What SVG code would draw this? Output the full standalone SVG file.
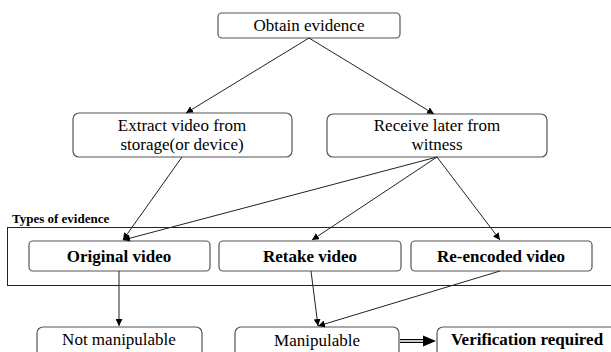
<svg xmlns="http://www.w3.org/2000/svg" width="611" height="352" viewBox="0 0 611 352">
<defs>
<marker id="ah" viewBox="0 0 10 10" refX="10" refY="5" markerWidth="7" markerHeight="7" markerUnits="userSpaceOnUse" orient="auto">
<path d="M0,0 L10,5 L0,10 z" fill="#000"/>
</marker>
<style>
.box{fill:#fff;stroke:#555;stroke-width:1.2}
.frame{fill:none;stroke:#222;stroke-width:1}
.t{font-family:'Liberation Serif','Times New Roman',serif;font-size:17px;fill:#000;text-anchor:middle}
.b{font-weight:bold}
.lbl{font-family:'Liberation Serif','Times New Roman',serif;font-size:13px;font-weight:bold;fill:#000}
.c{fill:none;stroke:#222;stroke-width:1;marker-end:url(#ah)}
</style>
</defs>
<rect width="611" height="352" fill="#fff"/>
<g id="types">
<rect class="frame" x="7.5" y="227.5" width="610" height="58"/>
<text class="lbl" x="12" y="223">Types of evidence</text>
</g>
<g id="obtain"><rect class="box" x="218" y="13" width="182" height="25" rx="4"/><text class="t" x="309" y="31">Obtain evidence</text></g>
<g id="extract"><rect class="box" x="73" y="113" width="219" height="44" rx="6"/><text class="t" x="182" y="131">Extract video from</text><text class="t" x="182" y="150">storage(or device)</text></g>
<g id="receive"><rect class="box" x="327" y="114" width="220" height="43" rx="6"/><text class="t" x="437" y="131">Receive later from</text><text class="t" x="437" y="150">witness</text></g>
<g id="original"><rect class="box" x="29" y="241" width="181" height="30" rx="4"/><text class="t b" x="119" y="262">Original video</text></g>
<g id="retake"><rect class="box" x="219" y="241" width="182" height="30" rx="4"/><text class="t b" x="310" y="262">Retake video</text></g>
<g id="reencoded"><rect class="box" x="411" y="241" width="181" height="30" rx="4"/><text class="t b" x="501" y="262">Re-encoded video</text></g>
<g id="notmanip"><rect class="box" x="37" y="327" width="165" height="40" rx="6"/><text class="t" x="119" y="345">Not manipulable</text></g>
<g id="manip"><rect class="box" x="235" y="327" width="164" height="40" rx="6"/><text class="t" x="317" y="346">Manipulable</text></g>
<g id="verify"><rect class="box" x="437" y="327" width="190" height="40" rx="6"/><text class="t b" x="527" y="345">Verification required</text></g>
<g id="connectors">
<line class="c" x1="309" y1="38" x2="186" y2="113"/>
<line class="c" x1="309" y1="38" x2="434" y2="114"/>
<line class="c" x1="182" y1="157" x2="123" y2="240"/>
<line class="c" x1="437" y1="157" x2="123" y2="240"/>
<line class="c" x1="437" y1="157" x2="312" y2="240"/>
<line class="c" x1="437" y1="157" x2="500" y2="240"/>
<line class="c" x1="119" y1="271" x2="119" y2="326"/>
<line class="c" x1="311" y1="271" x2="318" y2="326"/>
<line class="c" x1="500" y1="271" x2="318" y2="326"/>
<g id="double-arrow">
<line x1="400" y1="341" x2="425" y2="341" stroke="#000" stroke-width="4"/>
<line x1="400" y1="341" x2="425" y2="341" stroke="#fff" stroke-width="1.6"/>
<path d="M423,335.5 L436,341 L423,346.5 z" fill="#000"/>
</g>
</g>
</svg>
